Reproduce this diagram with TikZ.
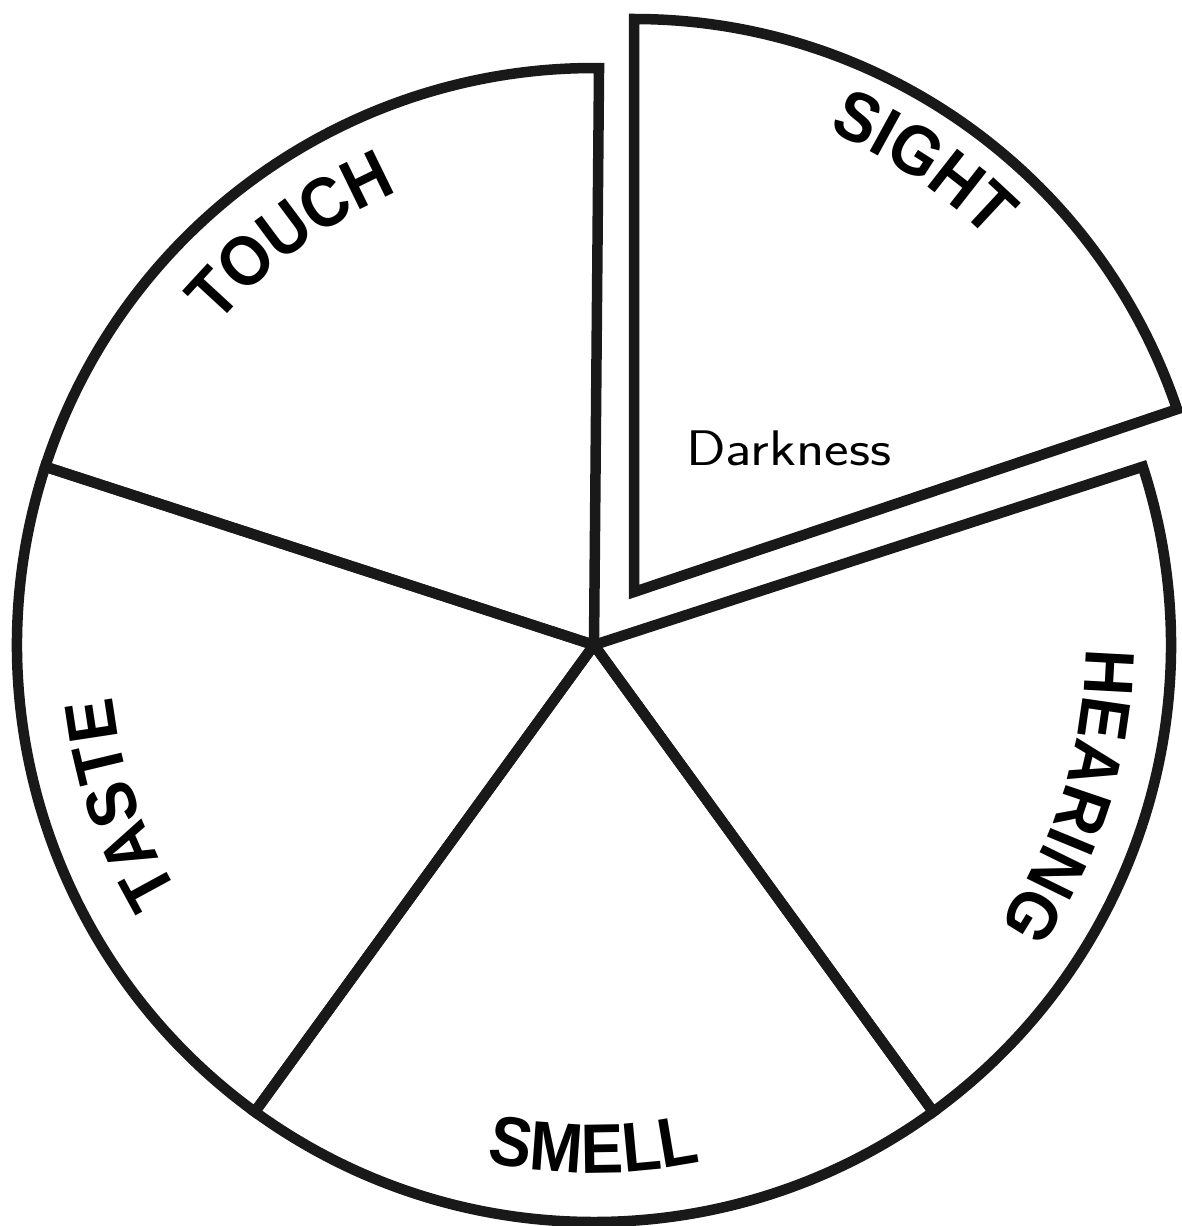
\documentclass[tikz,border=0pt]{standalone}
\usepackage{fontspec}
\usetikzlibrary{decorations.text}
\newfontfamily\lbf{Liberation Sans}[FakeStretch=0.91]
\newcommand\labfont{\lbf\bfseries\fontsize{70bp}{70bp}\selectfont}
\tikzset{
  slice/.style={draw=black!90, line width=10.5bp, line join=miter},
  curvelabel/.style={decorate, decoration={text along path, text={#1}, text align=center}}
}
\begin{document}
\begin{tikzpicture}[x=1bp,y=1bp]
\fill[white] (0,-1226) rectangle (1182,0);
\useasboundingbox (0,-1226) rectangle (1182,0);
\coordinate (C) at (594,-645);
\coordinate (A) at (634,-592);
% main pie slices
\path[slice] (C) -- ++(89.5:577bp) arc[start angle=89.5, end angle=162, radius=577bp] -- cycle; % touch
\path[slice] (C) -- ++(162:577bp) arc[start angle=162, end angle=234, radius=577bp] -- cycle; % taste
\path[slice] (C) -- ++(234:577bp) arc[start angle=234, end angle=306, radius=577bp] -- cycle; % smell
\path[slice] (C) -- ++(306:577bp) arc[start angle=306, end angle=378, radius=577bp] -- cycle; % hearing
% exploded sight slice
\path[slice] (A) -- ++(18.6:573bp) arc[start angle=18.6, end angle=90, radius=573bp] -- cycle;
% labels
\path[curvelabel={|\labfont|TOUCH}] (C) ++(154.5:494bp) arc[start angle=154.5, end angle=98.5, radius=494bp];
\path[curvelabel={|\labfont|SIGHT}] (A) ++(82:500bp) arc[start angle=82, end angle=30, radius=500bp];
\path[curvelabel={|\labfont|HEARING}] (C) ++(22.5:492bp) arc[start angle=22.5, end angle=-57.5, radius=492bp];
\path[curvelabel={|\labfont|TASTE}] (C) ++(230:484bp) arc[start angle=230, end angle=167, radius=484bp];
\path[curvelabel={|\labfont|SMELL}] (C) ++(240:528bp) arc[start angle=240, end angle=300, radius=528bp];
\node[anchor=base west, inner sep=0pt, font=\sffamily\fontsize{50bp}{50bp}\selectfont] (dark) at (686,-465) {\scalebox{1.17}[1]{Darkness}};
\end{tikzpicture}
\end{document}
